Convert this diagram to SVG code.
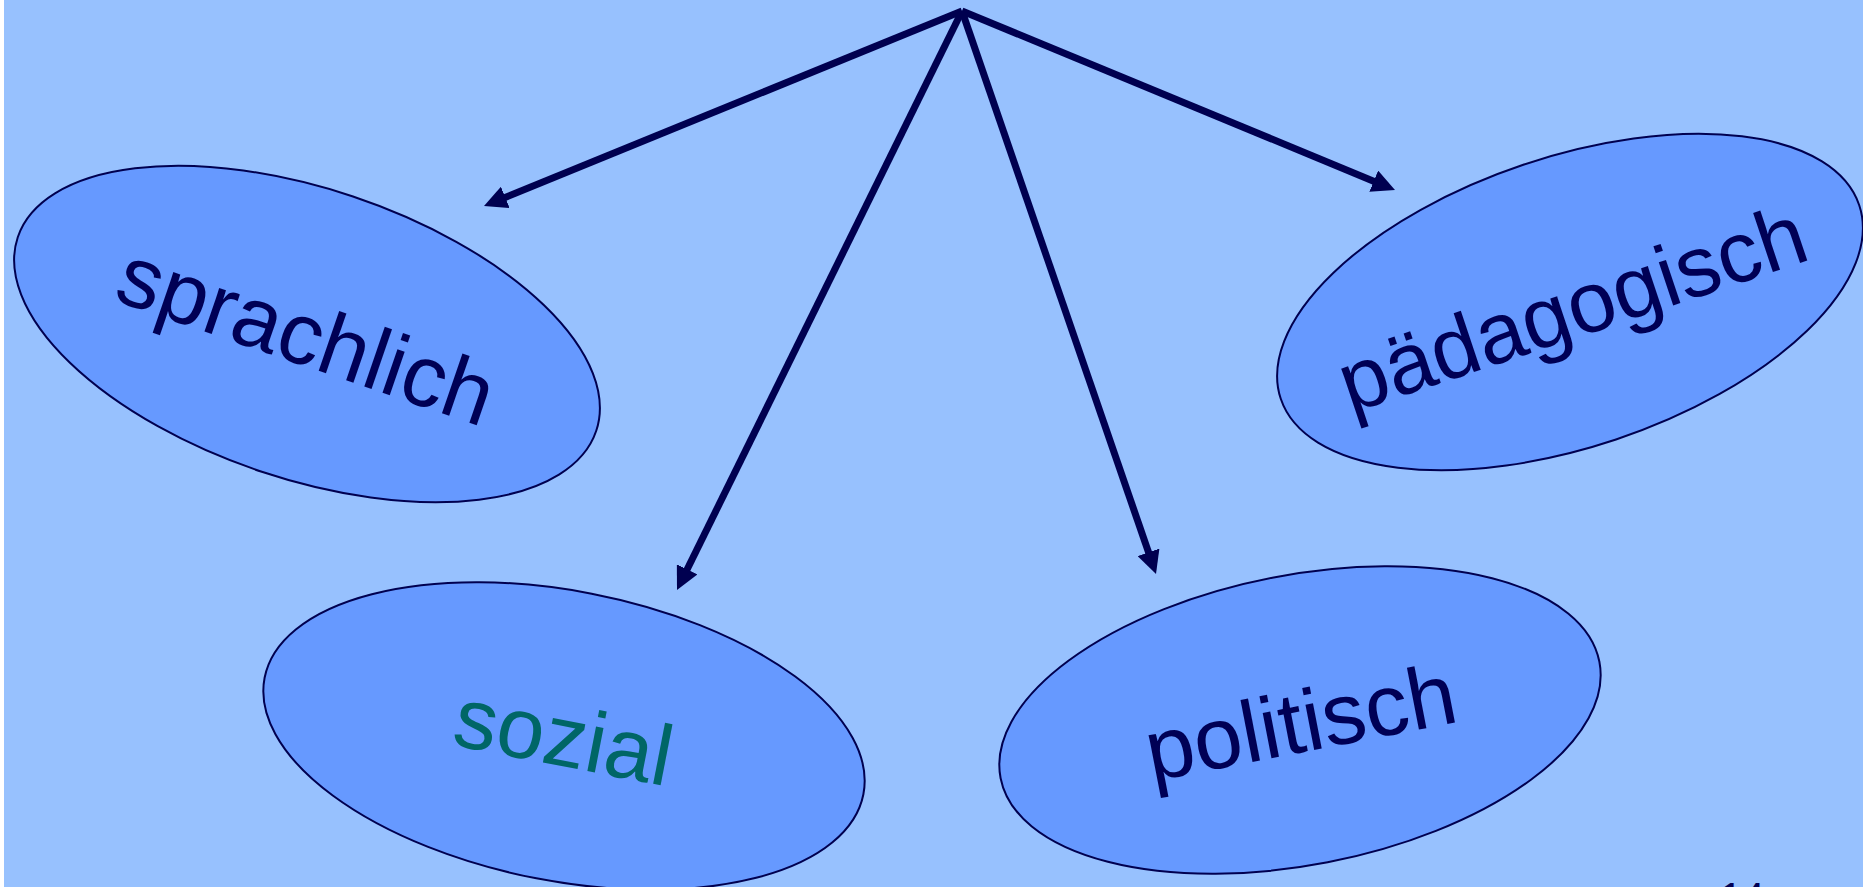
<svg xmlns="http://www.w3.org/2000/svg" width="1863" height="887" viewBox="0 0 1863 887">
<style>
.bg{fill:#97C1FE}
.node ellipse{fill:#6699FF;stroke:#000050;stroke-width:2}
.node text{font-family:"Liberation Sans",Arial,sans-serif;font-size:86px;text-anchor:middle;fill:#000055}
.conn line{stroke:#000050;stroke-width:7;fill:none;marker-end:url(#ah)}
.pg{font-family:"Liberation Sans",Arial,sans-serif;font-size:40px;fill:#000055}
</style>
<defs>
<marker id="ah" markerUnits="userSpaceOnUse" markerWidth="23" markerHeight="23" viewBox="0 0 23 23" refX="11" refY="11.5" orient="auto">
<path d="M0,0 L23,11.5 L0,23 z" fill="#000050"/>
</marker>
</defs>
<rect x="0" y="0" width="1863" height="887" fill="#FFFFFF"/>
<rect class="bg" x="4" y="0" width="1859" height="887"/>
<g id="sprachlich" class="node" transform="translate(307,334) rotate(18.5)">
<ellipse cx="0" cy="0" rx="305" ry="145"/>
<text x="0" y="31" style="font-size:87px" transform="rotate(0.5)">sprachlich</text>
</g>
<g id="sozial" class="node" transform="translate(564,736) rotate(11)">
<ellipse cx="0" cy="0" rx="305" ry="145"/>
<text x="0" y="30" style="fill:#006666">sozial</text>
</g>
<g id="politisch" class="node" transform="translate(1300,720) rotate(-11)">
<ellipse cx="0" cy="0" rx="305" ry="145"/>
<text x="0" y="32" style="font-size:87px">politisch</text>
</g>
<g id="paedagogisch" class="node" transform="translate(1570,302) rotate(-18.5)">
<ellipse cx="0" cy="0" rx="305" ry="145"/>
<text x="0" y="36">pädagogisch</text>
</g>
<g id="connectors" class="conn">
<line x1="962" y1="11" x2="495.1" y2="201.5"/>
<line x1="962" y1="11" x2="682.3" y2="579.2"/>
<line x1="962" y1="11" x2="1152.1" y2="562.7"/>
<line x1="962" y1="11" x2="1383.9" y2="185.4"/>
</g>
<text class="pg" x="1720" y="911">14</text>
</svg>
